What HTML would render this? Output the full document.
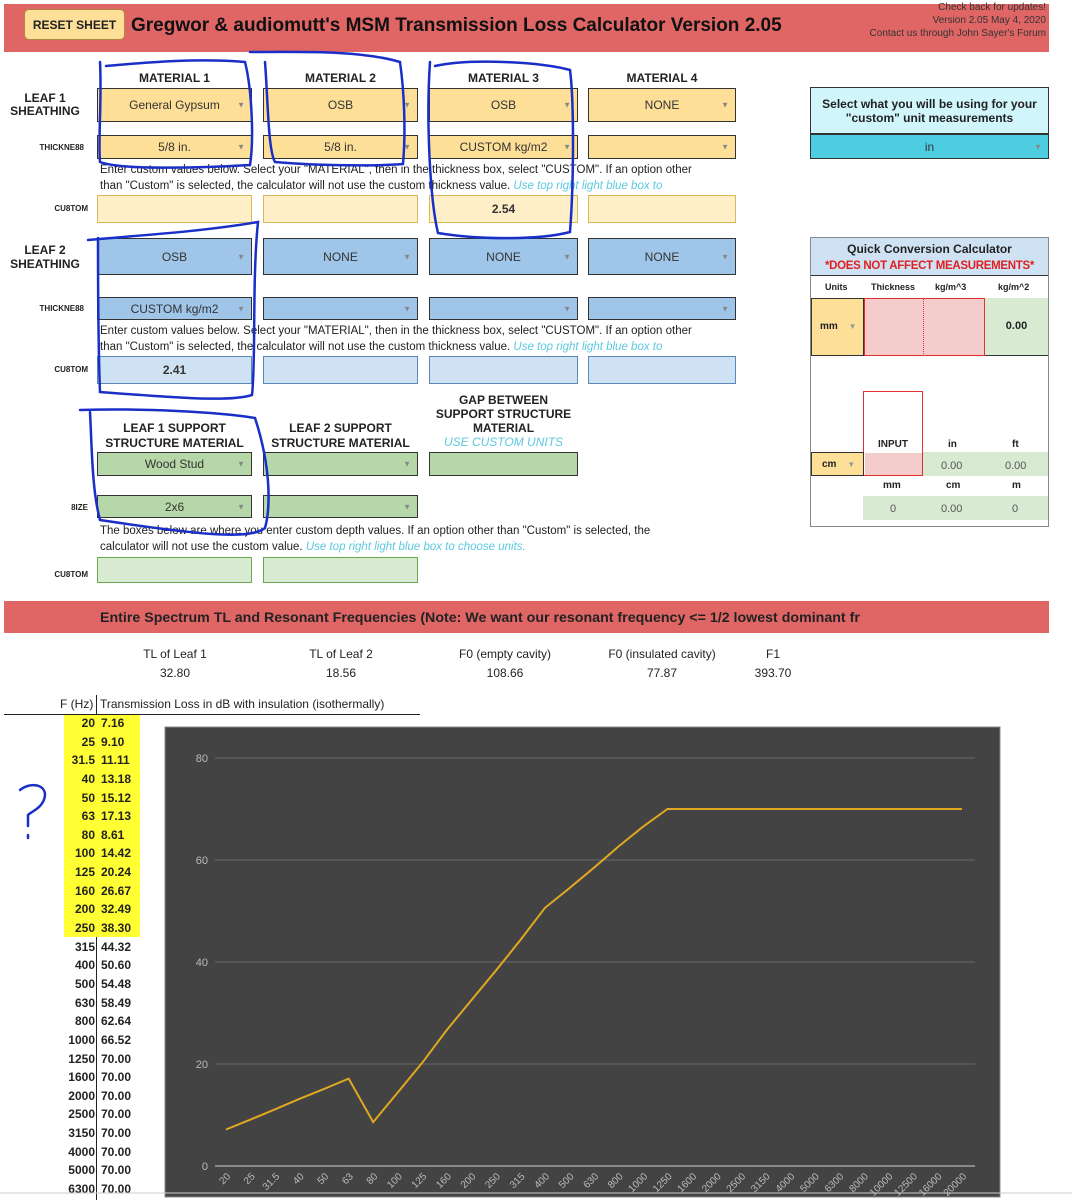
<!DOCTYPE html>
<html><head><meta charset="utf-8"><style>
*{margin:0;padding:0;box-sizing:border-box}
body{width:1072px;height:1200px;position:relative;background:#fff;font-family:"Liberation Sans",sans-serif;overflow:hidden;color:#222}
.a{position:absolute}
.c{position:absolute;border:1.5px solid #333;display:flex;align-items:center;justify-content:center;font-size:12px;color:#333}
.y{background:#fedf98}.yl{background:#feefc8;border-color:#d8b85a}
.b{background:#9fc5e8}.bl{background:#cfe2f3;border-color:#5a88b8}
.g{background:#b6d7a8}.gl{background:#d9ead3;border-color:#6aa84f}
.c .ar{position:absolute;right:6px;top:50%;transform:translateY(-50%);font-size:8px;color:#888}
.h{position:absolute;font-size:12px;font-weight:bold;text-align:center;color:#222}
.lab{position:absolute;font-size:8px;font-weight:bold;text-align:right;color:#222}
.note{position:absolute;font-size:11.5px;line-height:16px;color:#222}
.note i{color:#5bc8e0}
</style></head><body>

<div class="a" style="left:4px;top:4px;width:1045px;height:48px;background:#e06666"></div>
<div class="a" style="left:24px;top:9px;width:101px;height:31px;background:#fedf98;border:1px solid #b08a40;border-radius:5px;font-size:12px;font-weight:bold;display:flex;align-items:center;justify-content:center">RESET SHEET</div>
<div class="a" style="left:131px;top:15px;font-size:19px;font-weight:bold;color:#111">Gregwor &amp; audiomutt's MSM Transmission Loss Calculator Version 2.05</div>
<div class="a" style="right:26px;top:1px;font-size:10px;line-height:13px;text-align:right;color:#333">Check back for updates!<br>Version 2.05 May 4, 2020<br>Contact us through John Sayer's Forum</div>

<div class="h" style="left:97px;width:155px;top:71px">MATERIAL 1</div>
<div class="h" style="left:263px;width:155px;top:71px">MATERIAL 2</div>
<div class="h" style="left:429px;width:149px;top:71px">MATERIAL 3</div>
<div class="h" style="left:588px;width:148px;top:71px">MATERIAL 4</div>

<div class="h" style="left:10px;width:70px;top:92px;line-height:13px">LEAF 1<br>SHEATHING</div>
<div class="c y" style="left:97px;top:88px;width:155px;height:34px">General Gypsum<span class="ar">▼</span></div>
<div class="c y" style="left:263px;top:88px;width:155px;height:34px">OSB<span class="ar">▼</span></div>
<div class="c y" style="left:429px;top:88px;width:149px;height:34px">OSB<span class="ar">▼</span></div>
<div class="c y" style="left:588px;top:88px;width:148px;height:34px">NONE<span class="ar">▼</span></div>
<div class="lab" style="left:10px;width:74px;top:143px">THICKNE88</div>
<div class="c y" style="left:97px;top:135px;width:155px;height:24px">5/8 in.<span class="ar">▼</span></div>
<div class="c y" style="left:263px;top:135px;width:155px;height:24px">5/8 in.<span class="ar">▼</span></div>
<div class="c y" style="left:429px;top:135px;width:149px;height:24px">CUSTOM kg/m2<span class="ar">▼</span></div>
<div class="c y" style="left:588px;top:135px;width:148px;height:24px"><span class="ar">▼</span></div>
<div class="note" style="left:100px;top:162px">Enter custom values below. Select your "MATERIAL", then in the thickness box, select "CUSTOM". If an option other<br>than "Custom" is selected, the calculator will not use the custom thickness value. <i>Use top right light blue box to</i></div>
<div class="lab" style="left:10px;width:78px;top:204px">CU8TOM</div>
<div class="c yl" style="left:97px;top:195px;width:155px;height:28px"></div>
<div class="c yl" style="left:263px;top:195px;width:155px;height:28px"></div>
<div class="c yl" style="left:429px;top:195px;width:149px;height:28px;font-weight:bold">2.54</div>
<div class="c yl" style="left:588px;top:195px;width:148px;height:28px"></div>

<div class="h" style="left:10px;width:70px;top:243px;line-height:14px">LEAF 2<br>SHEATHING</div>
<div class="c b" style="left:97px;top:238px;width:155px;height:37px">OSB<span class="ar">▼</span></div>
<div class="c b" style="left:263px;top:238px;width:155px;height:37px">NONE<span class="ar">▼</span></div>
<div class="c b" style="left:429px;top:238px;width:149px;height:37px">NONE<span class="ar">▼</span></div>
<div class="c b" style="left:588px;top:238px;width:148px;height:37px">NONE<span class="ar">▼</span></div>
<div class="lab" style="left:10px;width:74px;top:304px">THICKNE88</div>
<div class="c b" style="left:97px;top:297px;width:155px;height:23px">CUSTOM kg/m2<span class="ar">▼</span></div>
<div class="c b" style="left:263px;top:297px;width:155px;height:23px"><span class="ar">▼</span></div>
<div class="c b" style="left:429px;top:297px;width:149px;height:23px"><span class="ar">▼</span></div>
<div class="c b" style="left:588px;top:297px;width:148px;height:23px"><span class="ar">▼</span></div>
<div class="note" style="left:100px;top:323px">Enter custom values below. Select your "MATERIAL", then in the thickness box, select "CUSTOM". If an option other<br>than "Custom" is selected, the calculator will not use the custom thickness value. <i>Use top right light blue box to</i></div>
<div class="lab" style="left:10px;width:78px;top:365px">CU8TOM</div>
<div class="c bl" style="left:97px;top:356px;width:155px;height:28px;font-weight:bold">2.41</div>
<div class="c bl" style="left:263px;top:356px;width:155px;height:28px"></div>
<div class="c bl" style="left:429px;top:356px;width:149px;height:28px"></div>
<div class="c bl" style="left:588px;top:356px;width:148px;height:28px"></div>

<div class="h" style="left:97px;width:155px;top:421px;line-height:15px">LEAF 1 SUPPORT<br>STRUCTURE MATERIAL</div>
<div class="h" style="left:263px;width:155px;top:421px;line-height:15px">LEAF 2 SUPPORT<br>STRUCTURE MATERIAL</div>
<div class="h" style="left:429px;width:149px;top:393px;line-height:14px">GAP BETWEEN<br>SUPPORT STRUCTURE<br>MATERIAL<br><span style="color:#5bc8e0;font-style:italic;font-weight:normal">USE CUSTOM UNITS</span></div>
<div class="c g" style="left:97px;top:452px;width:155px;height:24px">Wood Stud<span class="ar">▼</span></div>
<div class="c g" style="left:263px;top:452px;width:155px;height:24px"><span class="ar">▼</span></div>
<div class="c g" style="left:429px;top:452px;width:149px;height:24px"></div>
<div class="lab" style="left:10px;width:78px;top:503px">8IZE</div>
<div class="c g" style="left:97px;top:495px;width:155px;height:23px">2x6<span class="ar">▼</span></div>
<div class="c g" style="left:263px;top:495px;width:155px;height:23px"><span class="ar">▼</span></div>
<div class="note" style="left:100px;top:523px">The boxes below are where you enter custom depth values.  If an option other than "Custom" is selected, the<br>calculator will not use the custom value. <i>Use top right light blue box to choose units.</i></div>
<div class="lab" style="left:10px;width:78px;top:570px">CU8TOM</div>
<div class="c gl" style="left:97px;top:557px;width:155px;height:26px"></div>
<div class="c gl" style="left:263px;top:557px;width:155px;height:26px"></div>

<!-- right panel -->
<div class="a" style="left:810px;top:87px;width:239px;height:47px;background:#d0f6fc;border:1.5px solid #333;font-size:12px;font-weight:bold;text-align:center;padding-top:9px;line-height:14px">Select what you will be using for your<br>"custom" unit measurements</div>
<div class="c" style="left:810px;top:134px;width:239px;height:25px;background:#4ecde0">in<span class="ar">▼</span></div>

<div class="a" style="left:810px;top:237px;width:239px;height:290px;border:1px solid #888"></div>
<div class="a" style="left:811px;top:238px;width:237px;height:37px;background:#cfe2f3;text-align:center;font-size:12px;font-weight:bold;line-height:16px;padding-top:3px;white-space:nowrap">Quick Conversion Calculator<br><span style="color:#e02020;font-size:11.5px;letter-spacing:-0.3px">*DOES NOT AFFECT MEASUREMENTS*</span></div>
<div class="a" style="left:811px;top:275px;width:237px;border-top:1px solid #333"></div>
<div class="a" style="left:811px;top:282px;font-size:9px;font-weight:bold;width:237px">
<span class="a" style="left:14px">Units</span><span class="a" style="left:60px">Thickness</span><span class="a" style="left:124px">kg/m^3</span><span class="a" style="left:187px">kg/m^2</span></div>
<div class="a" style="left:811px;top:298px;width:53px;height:58px;background:#fedf98;border:1px solid #333;font-size:10px;font-weight:bold;padding:22px 0 0 8px">mm <span style="color:#999;font-size:8px;margin-left:8px">▼</span></div>
<div class="a" style="left:864px;top:298px;width:121px;height:58px;background:#f4cccc;border:1.5px solid #e03030"></div>
<div class="a" style="left:923px;top:298px;height:58px;border-left:1px dotted #e03030"></div>
<div class="a" style="left:985px;top:298px;width:63px;height:58px;background:#d9ead3;border-bottom:1px solid #333;font-size:11px;font-weight:bold;text-align:center;padding-top:22px">0.00</div>
<div class="a" style="left:863px;top:391px;width:60px;height:85px;border:1.5px solid #e03030"></div>
<div class="a" style="left:863px;top:439px;width:60px;font-size:10px;font-weight:bold;text-align:center">INPUT</div>
<div class="a" style="left:948px;top:439px;font-size:10px;font-weight:bold">in</div>
<div class="a" style="left:1012px;top:439px;font-size:10px;font-weight:bold">ft</div>
<div class="a" style="left:811px;top:452px;width:53px;height:24px;background:#fedf98;border:1px solid #333;font-size:10px;font-weight:bold;padding:6px 0 0 10px">cm <span style="color:#999;font-size:8px;margin-left:8px">▼</span></div>
<div class="a" style="left:865px;top:453px;width:57px;height:22px;background:#f4cccc"></div>
<div class="a" style="left:923px;top:452px;width:125px;height:24px;background:#d9ead3;font-size:11px;color:#555"><span class="a" style="left:18px;top:8px">0.00</span><span class="a" style="left:82px;top:8px">0.00</span></div>
<div class="a" style="left:883px;top:480px;font-size:10px;font-weight:bold">mm</div>
<div class="a" style="left:946px;top:480px;font-size:10px;font-weight:bold">cm</div>
<div class="a" style="left:1012px;top:480px;font-size:10px;font-weight:bold">m</div>
<div class="a" style="left:863px;top:496px;width:185px;height:24px;background:#d9ead3;font-size:11px;color:#555"><span class="a" style="left:27px;top:7px">0</span><span class="a" style="left:78px;top:7px">0.00</span><span class="a" style="left:149px;top:7px">0</span></div>

<!-- result section -->
<div class="a" style="left:4px;top:601px;width:1045px;height:32px;background:#e06666"></div>
<div class="a" style="left:100px;top:609px;font-size:14px;font-weight:bold;color:#222;transform:scaleX(1.015);transform-origin:left">Entire Spectrum TL and Resonant Frequencies  (Note: We want our resonant frequency &lt;= 1/2 lowest dominant fr</div>
<div class="a" style="left:120px;top:645px;width:110px;text-align:center;font-size:12px;line-height:19px">TL of Leaf 1<br>32.80</div>
<div class="a" style="left:286px;top:645px;width:110px;text-align:center;font-size:12px;line-height:19px">TL of Leaf 2<br>18.56</div>
<div class="a" style="left:445px;top:645px;width:120px;text-align:center;font-size:12px;line-height:19px">F0 (empty cavity)<br>108.66</div>
<div class="a" style="left:597px;top:645px;width:130px;text-align:center;font-size:12px;line-height:19px">F0 (insulated cavity)<br>77.87</div>
<div class="a" style="left:733px;top:645px;width:80px;text-align:center;font-size:12px;line-height:19px">F1<br>393.70</div>

<div class="a" style="left:4px;top:714px;width:416px;border-top:1.5px solid #222"></div>
<div class="a" style="left:96px;top:695px;height:505px;border-left:1.5px solid #222"></div>
<div class="a" style="left:60px;top:697px;font-size:12px">F (Hz)</div>
<div class="a" style="left:100px;top:697px;font-size:12px">Transmission Loss in dB with insulation (isothermally)</div>
<div class="a" style="left:64px;top:715px;width:76px;height:222px;background:#ffff33"></div>

<div class="a" style="left:0;top:714px;width:140px;font-size:12px;font-weight:bold;line-height:18.64px">
<div style="position:absolute;left:0;width:95px;text-align:right">20<br>25<br>31.5<br>40<br>50<br>63<br>80<br>100<br>125<br>160<br>200<br>250<br>315<br>400<br>500<br>630<br>800<br>1000<br>1250<br>1600<br>2000<br>2500<br>3150<br>4000<br>5000<br>6300</div>
<div style="position:absolute;left:101px">7.16<br>9.10<br>11.11<br>13.18<br>15.12<br>17.13<br>8.61<br>14.42<br>20.24<br>26.67<br>32.49<br>38.30<br>44.32<br>50.60<br>54.48<br>58.49<br>62.64<br>66.52<br>70.00<br>70.00<br>70.00<br>70.00<br>70.00<br>70.00<br>70.00<br>70.00</div>
</div>

<svg class="a" style="left:0;top:0" width="1072" height="1200">
<rect x="165" y="727" width="835" height="470" fill="#434343" stroke="#888" stroke-width="1"/>
<g stroke="#6a6a6a" stroke-width="1">
<line x1="215" x2="975" y1="758" y2="758"/><line x1="215" x2="975" y1="860" y2="860"/>
<line x1="215" x2="975" y1="962" y2="962"/><line x1="215" x2="975" y1="1064" y2="1064"/>
</g>
<line x1="215" x2="975" y1="1166" y2="1166" stroke="#8a8a8a" stroke-width="2"/>
<g fill="#bbb" font-size="11" font-family="Liberation Sans" text-anchor="end">
<text x="208" y="762">80</text><text x="208" y="864">60</text><text x="208" y="966">40</text><text x="208" y="1068">20</text><text x="208" y="1170">0</text>
</g>
<polyline fill="none" stroke="#e0a820" stroke-width="2" points="226,1129.5 250.5,1119.6 275.1,1109.3 299.6,1098.8 324.1,1088.9 348.7,1078.6 373.2,1122.1 397.7,1092.5 422.2,1062.8 446.8,1030 471.3,1000.3 495.8,970.7 520.4,940 544.9,907.9 569.4,888.2 594,867.7 618.5,846.5 643,826.7 667.5,809 962,809"/>
<g fill="#bbb" font-size="10" font-family="Liberation Sans" text-anchor="end">
<text transform="translate(231,1177) rotate(-45)">20</text>
<text transform="translate(255.5,1177) rotate(-45)">25</text>
<text transform="translate(280.1,1177) rotate(-45)">31.5</text>
<text transform="translate(304.6,1177) rotate(-45)">40</text>
<text transform="translate(329.1,1177) rotate(-45)">50</text>
<text transform="translate(353.7,1177) rotate(-45)">63</text>
<text transform="translate(378.2,1177) rotate(-45)">80</text>
<text transform="translate(402.7,1177) rotate(-45)">100</text>
<text transform="translate(427.2,1177) rotate(-45)">125</text>
<text transform="translate(451.8,1177) rotate(-45)">160</text>
<text transform="translate(476.3,1177) rotate(-45)">200</text>
<text transform="translate(500.8,1177) rotate(-45)">250</text>
<text transform="translate(525.4,1177) rotate(-45)">315</text>
<text transform="translate(549.9,1177) rotate(-45)">400</text>
<text transform="translate(574.4,1177) rotate(-45)">500</text>
<text transform="translate(599,1177) rotate(-45)">630</text>
<text transform="translate(623.5,1177) rotate(-45)">800</text>
<text transform="translate(648,1177) rotate(-45)">1000</text>
<text transform="translate(672.5,1177) rotate(-45)">1250</text>
<text transform="translate(697,1177) rotate(-45)">1600</text>
<text transform="translate(721.6,1177) rotate(-45)">2000</text>
<text transform="translate(746.1,1177) rotate(-45)">2500</text>
<text transform="translate(770.6,1177) rotate(-45)">3150</text>
<text transform="translate(795.2,1177) rotate(-45)">4000</text>
<text transform="translate(819.7,1177) rotate(-45)">5000</text>
<text transform="translate(844.2,1177) rotate(-45)">6300</text>
<text transform="translate(868.8,1177) rotate(-45)">8000</text>
<text transform="translate(893.3,1177) rotate(-45)">10000</text>
<text transform="translate(917.8,1177) rotate(-45)">12500</text>
<text transform="translate(942.4,1177) rotate(-45)">16000</text>
<text transform="translate(967,1177) rotate(-45)">20000</text>
</g>
<line x1="0" x2="1072" y1="1193" y2="1193" stroke="#ccc"/>
<g fill="none" stroke="#1a2fc8" stroke-width="2.5" stroke-linecap="round">
<path d="M100,62 C102,100 98,140 100,162 C120,170 200,168 250,165 C254,140 252,90 245,62 C200,58 150,62 106,66"/>
<path d="M265,62 C268,100 268,150 275,162 C320,166 380,166 403,164 C406,130 404,90 400,62 C360,50 300,52 250,52"/>
<path d="M430,62 C426,120 430,200 438,233 C480,240 540,240 570,232 C574,180 574,100 570,70 C540,62 470,58 435,66"/>
<path d="M88,240 C130,236 200,232 258,222 C252,280 256,360 252,395 C230,402 180,398 100,392 C98,340 98,280 98,238"/>
<path d="M80,410 C140,408 220,412 255,418 C272,470 270,510 265,528 C250,540 200,535 100,520 C92,490 92,450 90,412"/>
<path d="M20,790 C30,782 45,784 45,795 C44,808 30,812 28,815 L28,826 M28,835 L28,838"/>
</g>
</svg>
</body></html>
